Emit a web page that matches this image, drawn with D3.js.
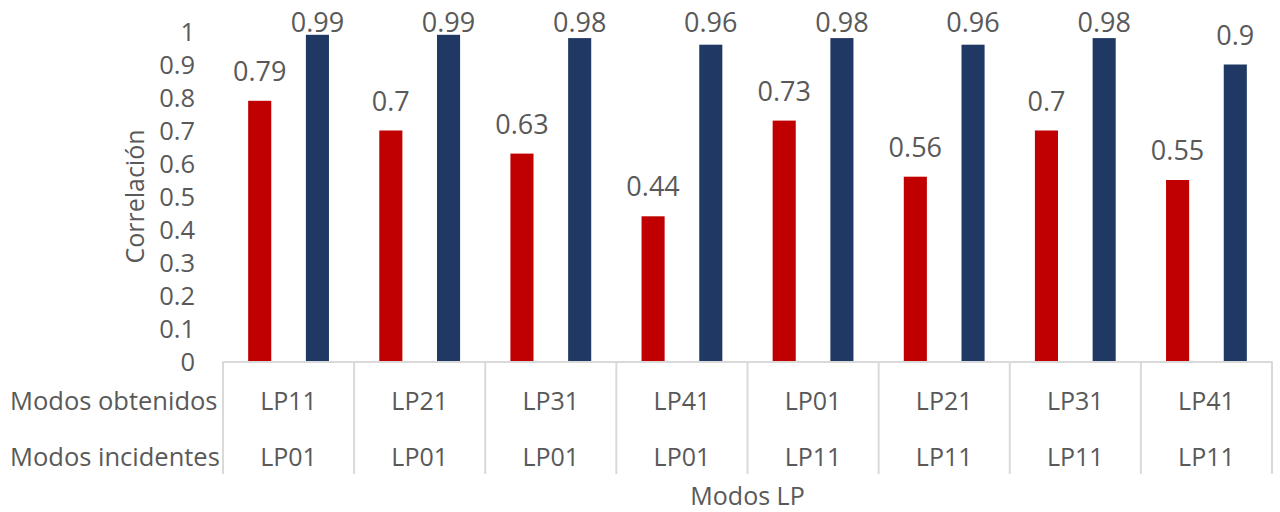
<!DOCTYPE html>
<html><head><meta charset="utf-8">
<script src="https://cdn.jsdelivr.net/npm/d3@7"></script>
<style>body{margin:0;background:#fff;}svg{display:block;}</style>
</head><body>
<script>
const obtenidos = ["LP11","LP21","LP31","LP41","LP01","LP21","LP31","LP41"];
const incidentes = ["LP01","LP01","LP01","LP01","LP11","LP11","LP11","LP11"];
const serieRoja = [0.79,0.7,0.63,0.44,0.73,0.56,0.7,0.55];
const serieAzul = [0.99,0.99,0.98,0.96,0.98,0.96,0.98,0.9];
const yTicks = [0,0.1,0.2,0.3,0.4,0.5,0.6,0.7,0.8,0.9,1];
const rowLabels = ["Modos obtenidos","Modos incidentes"];

(function(){
const W=1280,H=512;
const font='"Open Sans", sans-serif';
const txt='#595959', grid='#d9d9d9';
const svg=d3.select('body').append('svg').attr('width',W).attr('height',H);
const pL=223,pR=1272,pT=31.5,pB=361.5;
const idx=d3.range(obtenidos.length);
const x=d3.scaleBand().domain(idx).range([pL,pR]);
const xi=d3.scaleBand().domain(['r','b']).range([0,x.bandwidth()]).paddingInner(0.6).paddingOuter(0.436);
const y=d3.scaleLinear().domain([0,1]).range([pB,pT]);

// y ticks
const yAxis=d3.axisLeft(y).tickValues(yTicks).tickSize(0).tickPadding(0).tickFormat(d=>String(+d.toFixed(1)));
const ga=svg.append('g').attr('transform',`translate(${pL-28},0)`).call(yAxis);
ga.select('.domain').remove();
ga.selectAll('text').attr('font-family',font).attr('font-size',25.5).attr('fill',txt).attr('dy','0.35em');

// y title
svg.append('text').attr('transform',`translate(135,${(pT+pB)/2}) rotate(-90)`)
  .attr('text-anchor','middle').attr('dy','0.35em').attr('font-family',font).attr('font-size',25).attr('fill',txt).text('Correlación');

// bars
const series=[{k:'r',vals:serieRoja,c:'#C00000'},{k:'b',vals:serieAzul,c:'#203864'}];
series.forEach(s=>{
  const g=svg.append('g');
  g.selectAll('rect').data(idx).join('rect')
    .attr('x',i=>x(i)+xi(s.k)).attr('width',xi.bandwidth())
    .attr('y',i=>y(s.vals[i])).attr('height',i=>pB-y(s.vals[i])).attr('fill',s.c);
  g.selectAll('text').data(idx).join('text')
    .attr('x',i=>x(i)+xi(s.k)+xi.bandwidth()/2)
    .attr('y',i=>Math.max(y(s.vals[i])-20,32))
    .attr('text-anchor','middle').attr('font-family',font).attr('font-size',27).attr('fill',txt)
    .text(i=>String(s.vals[i]));
});

// table lines
svg.append('line').attr('x1',pL).attr('x2',pR).attr('y1',pB+0.5).attr('y2',pB+0.5).attr('stroke',grid).attr('stroke-width',2);
const bounds=idx.map(i=>x(i)).concat([pR]);
svg.append('g').selectAll('line').data(bounds).join('line')
  .attr('x1',d=>d).attr('x2',d=>d).attr('y1',pB).attr('y2',474).attr('stroke',grid).attr('stroke-width',2);

// table labels
const rows=[obtenidos,incidentes];
const rowY=[401,457];
rows.forEach((r,ri)=>{
  svg.append('g').selectAll('text').data(idx).join('text')
    .attr('x',i=>x(i)+x.bandwidth()/2).attr('y',rowY[ri]).attr('dy','0.35em')
    .attr('text-anchor','middle').attr('font-family',font).attr('font-size',25).attr('fill',txt).text(i=>r[i]);
  svg.append('text').attr('x',10).attr('y',rowY[ri]).attr('dy','0.35em')
    .attr('font-family',font).attr('font-size',25.5).attr('fill',txt).text(rowLabels[ri]);
});

// x title
svg.append('text').attr('x',(pL+pR)/2).attr('y',496.5).attr('dy','0.35em').attr('text-anchor','middle')
  .attr('font-family',font).attr('font-size',25).attr('fill',txt).text('Modos LP');
})();
</script>
</body></html>
